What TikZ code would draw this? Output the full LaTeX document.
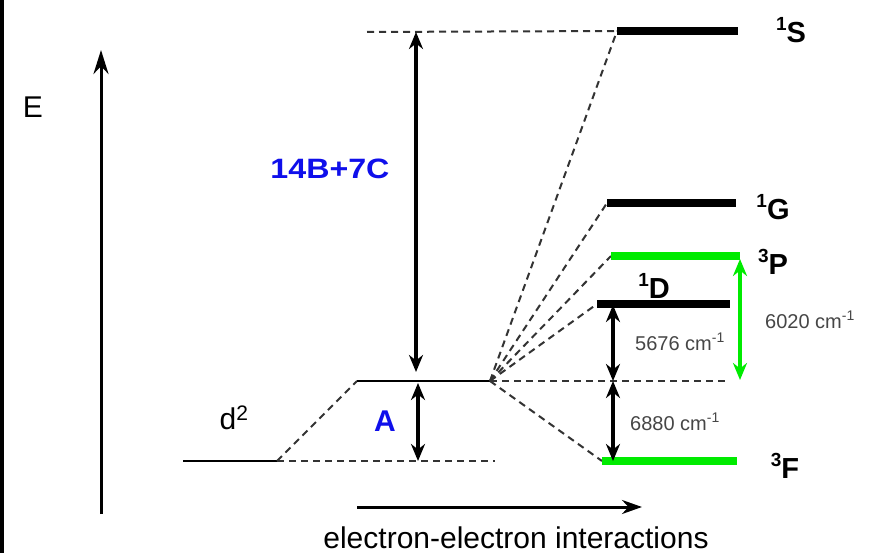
\documentclass[tikz,border=0pt]{standalone}
\usepackage{fontspec}
\usepackage{graphicx}
\setmainfont{Liberation Sans}
\usetikzlibrary{arrows.meta}
\definecolor{lvgreen}{RGB}{0,235,0}
\definecolor{lblue}{RGB}{15,15,235}
\definecolor{lgray}{RGB}{70,70,70}
\newcommand{\spinsup}[1]{\raisebox{0.42em}{\fontsize{19}{20}\selectfont #1}}
\begin{document}
\begin{tikzpicture}[x=1pt,y=-1pt,
  thinline/.style={line width=2pt},
  dashline/.style={line width=2pt, dash pattern=on 7pt off 5pt, black!80},
  level/.style={line width=8pt},
  dimarrow/.style={line width=3.2pt,{Stealth[length=17pt,width=14pt]}-{Stealth[length=17pt,width=14pt]}},
  big/.style={font=\fontsize{30}{36}\selectfont},
  term/.style={font=\fontsize{29}{32}\selectfont\bfseries},
  small/.style={font=\fontsize{20}{24}\selectfont, text=lgray},
  every node/.style={inner sep=0pt}
]
\useasboundingbox (0,0) rectangle (871,553);
\fill[white] (0,0) rectangle (871,553);
\draw[line width=4pt] (2,0) -- (2,553);

% energy axis
\coordinate (Ebot) at (101,514);
\coordinate (Etop) at (101,50);
\draw[line width=3pt,-{Stealth[length=24pt,width=15pt]}] (Ebot) -- (Etop);
\node[big] (Elab) at (33,107) {E};

% free ion and spherical part
\coordinate (d2L) at (183,461);
\coordinate (d2R) at (277,461);
\coordinate (aL) at (357,381);
\coordinate (conv) at (490,381);
\coordinate (baseR) at (495,461);
\coordinate (topL) at (367,32);
\draw[thinline] (d2L) -- (d2R);
\draw[dashline] (d2R) -- (aL);
\draw[dashline] (d2R) -- (baseR);
\draw[thinline] (aL) -- (conv);
\node[big] (d2lab) at (234,418) {d\textsuperscript{2}};

% term levels
\coordinate (S1L) at (617,31);   \coordinate (S1R) at (738,31);
\coordinate (G1L) at (607,203);  \coordinate (G1R) at (736,203);
\coordinate (P3L) at (611,256);  \coordinate (P3R) at (740,256);
\coordinate (D1L) at (597,304);  \coordinate (D1R) at (730,304);
\coordinate (F3L) at (602,461);  \coordinate (F3R) at (737,461);
\coordinate (midR) at (725,381);

\draw[dashline] (topL) -- (S1L);
\draw[dashline] (conv) -- (S1L);
\draw[dashline] (conv) -- (G1L);
\draw[dashline] (conv) -- (P3L);
\draw[dashline] (conv) -- (D1L);
\draw[dashline] (conv) -- (midR);
\draw[dashline] (conv) -- (F3L);

\draw[level] (S1L) -- (S1R);
\draw[level] (G1L) -- (G1R);
\draw[level,lvgreen] (P3L) -- (P3R);
\draw[level] (D1L) -- (D1R);
\draw[level,lvgreen] (F3L) -- (F3R);

\node[term] (S1lab) at (791,30) {\spinsup{1}S};
\node[term] (G1lab) at (773,207) {\spinsup{1}G};
\node[term] (P3lab) at (773,262) {\spinsup{3}P};
\node[term] (D1lab) at (654,286) {\spinsup{1}D};
\node[term] (F3lab) at (785,466) {\spinsup{3}F};

% dimension arrows
\coordinate (bTop) at (416,32);  \coordinate (bBot) at (416,372);
\draw[dimarrow] (bBot) -- (bTop);
\node[font=\fontsize{28}{32}\selectfont\bfseries, text=lblue] (BClab) at (330,169) {\scalebox{1.15}[1]{14B+7C}};

\coordinate (aTop) at (418,383); \coordinate (aBot) at (418,461);
\draw[dimarrow] (aTop) -- (aBot);
\node[font=\fontsize{30}{34}\selectfont\bfseries, text=lblue] (Alab) at (385,421) {A};

\coordinate (dTop) at (613,305); \coordinate (dMid) at (613,381); \coordinate (dBot) at (613,461);
\draw[dimarrow] (dTop) -- (dMid);
\draw[dimarrow] (dMid) -- (dBot);
\node[small] (l5676) at (680,342) {5676 cm\textsuperscript{-1}};
\node[small] (l6880) at (675,422) {6880 cm\textsuperscript{-1}};

\coordinate (gTop) at (740,259); \coordinate (gBot) at (740,380);
\draw[dimarrow,lvgreen] (gTop) -- (gBot);
\node[small] (l6020) at (810,320) {6020 cm\textsuperscript{-1}};

% electron-electron axis
\coordinate (eeL) at (357,507);
\coordinate (eeR) at (642,507);
\draw[line width=3pt,-{Stealth[length=20pt,width=14pt]}] (eeL) -- (eeR);
\node[font=\fontsize{30}{34}\selectfont, anchor=base] (eelab) at (516,548) {electron-electron interactions};
\end{tikzpicture}
\end{document}
